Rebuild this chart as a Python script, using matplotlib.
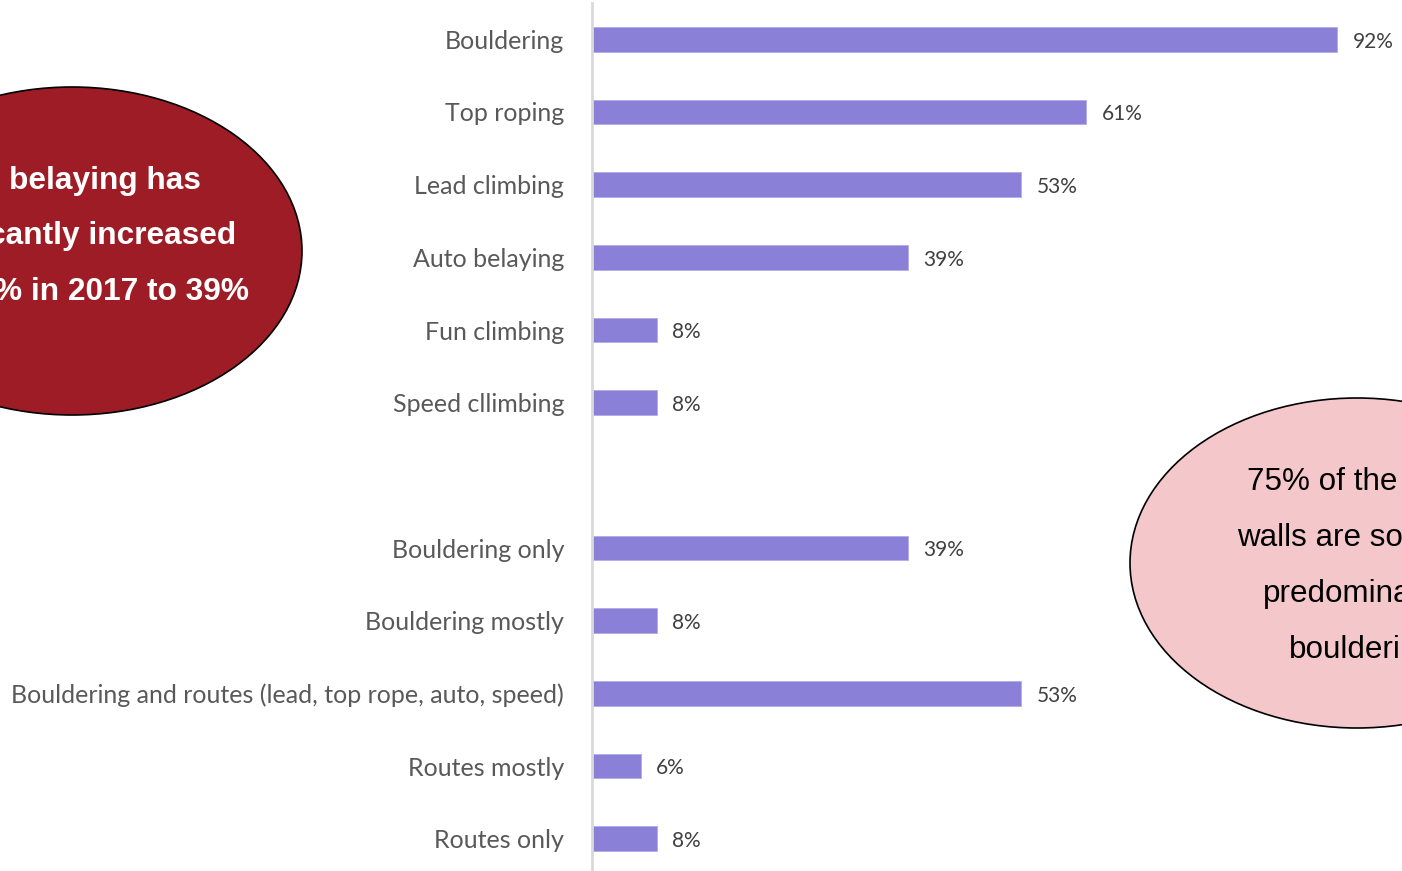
import matplotlib
matplotlib.use("Agg")
import matplotlib.pyplot as plt
from matplotlib.patches import Ellipse

# Share of climbing walls offering each discipline / wall type
categories = [
    "Bouldering", "Top roping", "Lead climbing", "Auto belaying",
    "Fun climbing", "Speed cllimbing", "",
    "Bouldering only", "Bouldering mostly",
    "Bouldering and routes (lead, top rope, auto, speed)",
    "Routes mostly", "Routes only",
]
values = [92, 61, 53, 39, 8, 8, None, 39, 8, 53, 6, 8]

left_note = ["belaying has", "cantly increased", "% in 2017 to 39%"]
right_note = ["75% of the", "walls are so", "predomina", "boulderi"]

W, H = 1402, 871
fig = plt.figure(figsize=(W / 100, H / 100), dpi=100)
fig.patch.set_facecolor("white")

# Main bar axes: x = 0 sits at pixel 592, rows span the full height
ax = fig.add_axes([592 / W, -4 / H, (W - 592) / W, 1 + 1 / H])
ax.set_xlim(0, 100)
ax.set_ylim(11.5, -0.5)

bar_color = "#8B80D7"
label_color = "#595959"
for i, (cat, v) in enumerate(zip(categories, values)):
    if v is None:
        continue
    ax.barh(i, v, height=0.34, color=bar_color, edgecolor="#B3ABE6", linewidth=0.6)
    ax.text(v + 1.9, i + 0.03, f"{v}%", va="center", ha="left", fontsize=15,
            family="Lato", color="#404040")

ax.set_yticks([i for i, v in enumerate(values) if v is not None])
ax.set_yticklabels([c for c, v in zip(categories, values) if v is not None],
                   fontsize=18, family="Lato", color=label_color)
ax.tick_params(axis="y", length=0, pad=20)
ax.set_xticks([])
for s in ["top", "right", "bottom"]:
    ax.spines[s].set_visible(False)
ax.spines["left"].set_color("#D9D9D9")
ax.spines["left"].set_linewidth(2)
ax.patch.set_alpha(0)

# Overlay axes in pixel coordinates for the callout ellipses
ov = fig.add_axes([0, 0, 1, 1])
ov.set_xlim(0, W)
ov.set_ylim(H, 0)
ov.axis("off")
ov.patch.set_alpha(0)

ov.add_patch(Ellipse((72, 251), 460, 328, facecolor="#9E1C25",
                     edgecolor="black", linewidth=1.2))
for txt, y, xr in zip(left_note, [181, 236, 292], [201, 236, 249]):
    ov.text(xr, y, txt, ha="right", va="center", fontsize=22.8, fontweight="bold",
            family="Liberation Sans", color="white")

ov.add_patch(Ellipse((1357, 563), 454, 330, facecolor="#F4C7CA",
                     edgecolor="black", linewidth=1.2))
for txt, y, xl in zip(right_note, [482, 538, 594, 650], [1247, 1237, 1263, 1289]):
    ov.text(xl, y, txt, ha="left", va="center", fontsize=22.6,
            family="Liberation Sans", color="black")

fig.savefig("out.png", dpi=100)
